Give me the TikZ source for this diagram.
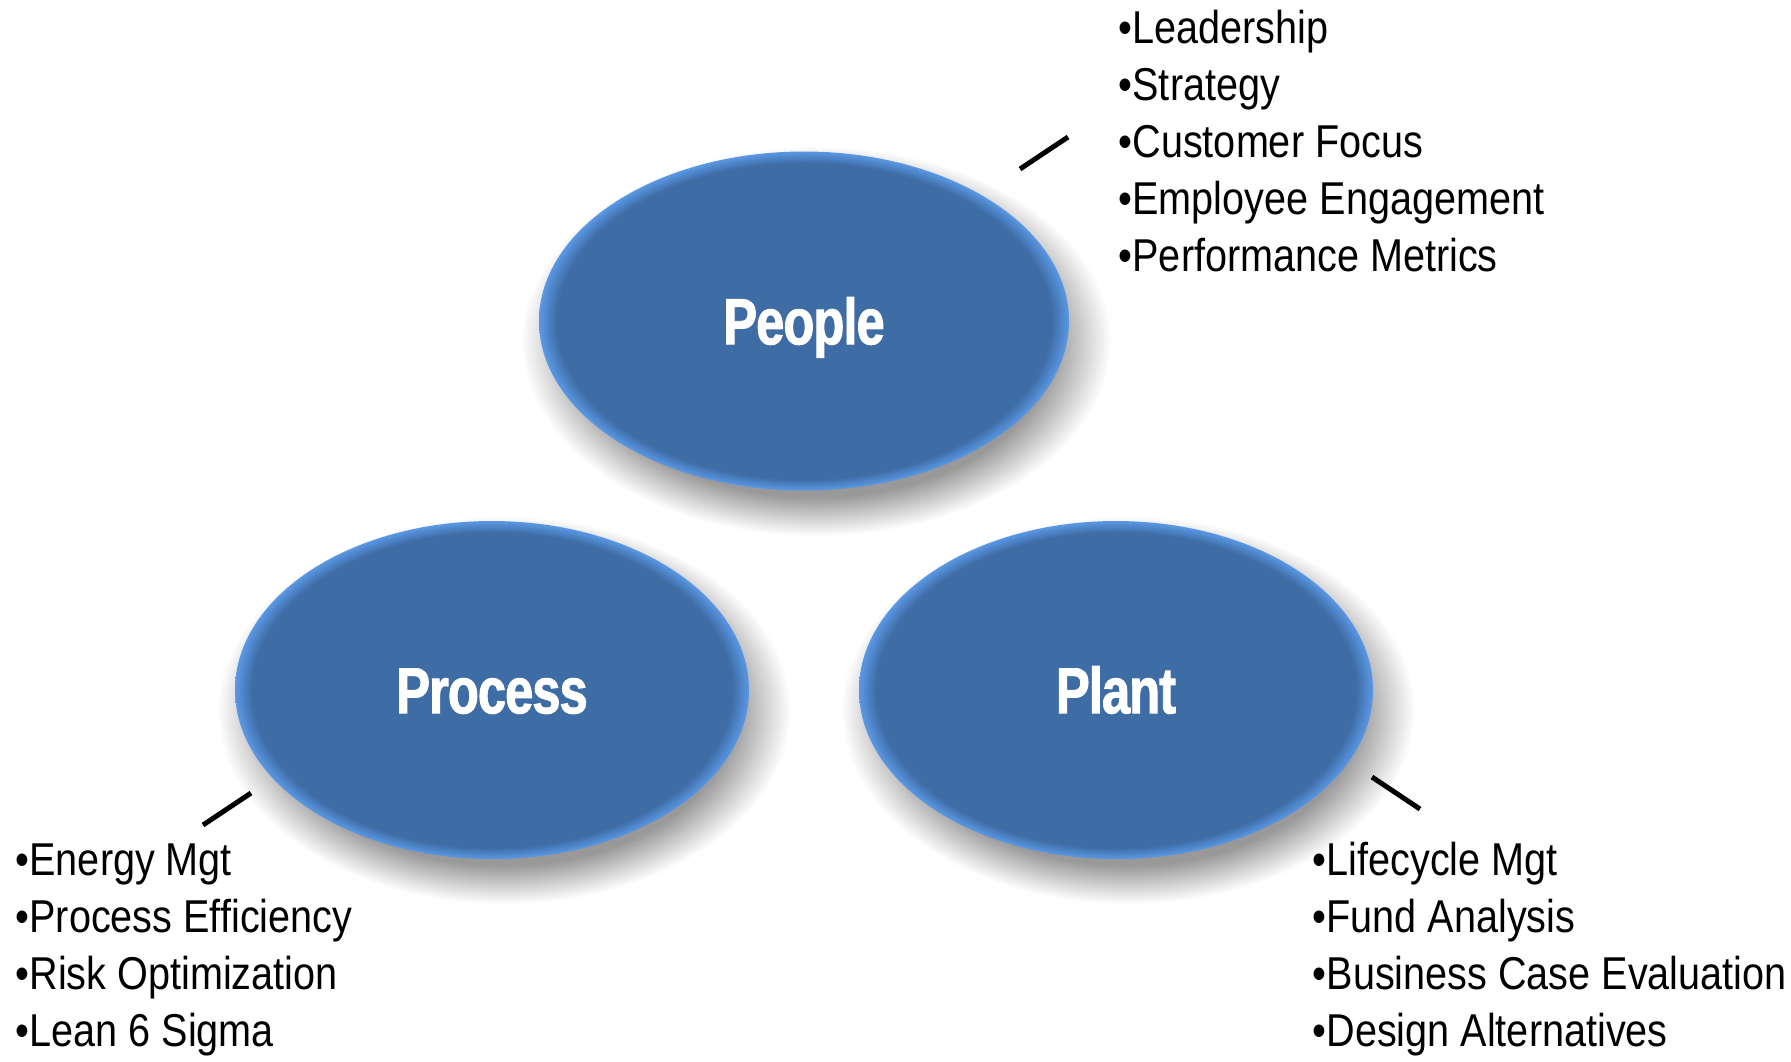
\documentclass[tikz,border=0pt]{standalone}
\usepackage{fontspec}
\usepackage{xcolor}
\usetikzlibrary{shapes.geometric,backgrounds,calc}
\setmainfont{Liberation Sans}
\newfontfamily\pillarfont[FakeStretch=0.78,FakeBold=1.5,LetterSpace=-1.5]{Liberation Sans}
\newfontfamily\listfont[FakeStretch=0.86]{Liberation Sans}
\definecolor{pillarblue}{RGB}{62,108,165}
\definecolor{pillarrim}{RGB}{90,152,228}
\pgfdeclareradialshading{capshade}{\pgfpoint{0bp}{0bp}}{color(0bp)=(pillarblue); color(23.3bp)=(pillarblue); color(25bp)=(pillarrim); color(50bp)=(pillarrim)}
\pgfdeclareradialshading{dropshade}{\pgfpoint{0bp}{0bp}}{color(0bp)=(black!45); color(20bp)=(black!40); color(25bp)=(white); color(50bp)=(white)}
\tikzset{
    pillar/.style={ellipse, shade, shading=capshade, minimum width=5.3cm, minimum height=3.39cm, inner sep=0pt, text=white, text height=13.2pt, text depth=0pt, font=\pillarfont\bfseries\fontsize{18.5pt}{20pt}\selectfont},
    listitem/.style={anchor=base west, inner sep=0pt, font=\listfont\fontsize{13.1pt}{16.2pt}\selectfont},
    leader/.style={line width=0.05cm}
}

\begin{document}
\begin{tikzpicture}
        \node[pillar] (people) at (8.04, -3.21) {People};
        \node[pillar, minimum width=5.14cm, minimum height=3.38cm] (process) at (4.92, -6.90) {Process};
        \node[pillar, minimum width=5.14cm, minimum height=3.38cm] (plant) at (11.16, -6.90) {Plant};

        \begin{scope}[on background layer]
            \fill[white] (0, 0) rectangle (17.91, -10.61);
            \shade[shading=dropshade] ($(people)+(0.12,-0.2)$) ellipse [x radius=2.95, y radius=1.95];
            \shade[shading=dropshade] ($(process)+(0.12,-0.2)$) ellipse [x radius=2.87, y radius=1.94];
            \shade[shading=dropshade] ($(plant)+(0.12,-0.2)$) ellipse [x radius=2.87, y radius=1.94];
        \end{scope}

        \foreach \txt [count=\i] in {Leadership, Strategy, Customer Focus, Employee Engagement, Performance Metrics}
            \node[listitem] (peopleitem\i) at (11.18, {-0.43-0.57*(\i-1)}) {•\txt};
        \foreach \txt [count=\i] in {Energy Mgt, Process Efficiency, Risk Optimization, Lean 6 Sigma}
            \node[listitem] (processitem\i) at (0.15, {-8.75-0.57*(\i-1)}) {•\txt};
        \foreach \txt [count=\i] in {Lifecycle Mgt, Fund Analysis, Business Case Evaluation, Design Alternatives}
            \node[listitem] (plantitem\i) at (13.12, {-8.75-0.57*(\i-1)}) {•\txt};

        \coordinate (peoplefoot) at (10.20, -1.69);
        \coordinate (peoplehead) at (10.68, -1.37);
        \coordinate (processfoot) at (2.03, -8.25);
        \coordinate (processhead) at (2.51, -7.93);
        \coordinate (plantfoot) at (13.72, -7.77);
        \coordinate (planthead) at (14.20, -8.09);
        \draw[leader] (peoplefoot) -- (peoplehead);
        \draw[leader] (processfoot) -- (processhead);
        \draw[leader] (plantfoot) -- (planthead);
    \end{tikzpicture}
\end{document}
